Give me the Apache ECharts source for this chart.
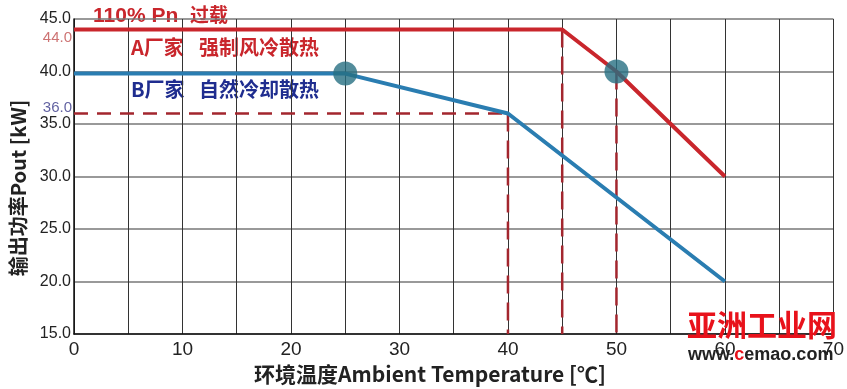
<!DOCTYPE html>
<html><head><meta charset="utf-8">
<script src="https://cdn.jsdelivr.net/npm/echarts@6/dist/echarts.min.js"></script>
<style>html,body{margin:0;padding:0;background:#fff}#c{width:847px;height:389px}</style>
</head><body><div id="c"></div>
<script>
// ---- data ----
const xTicks = [0, 10, 20, 30, 40, 50, 60, 70];
const yTicks = [15, 20, 25, 30, 35, 40, 45];
const redTemp = [0, 45, 50, 60];
const redPower = [44, 44, 40, 30];
const blueTemp = [0, 25, 40, 60];
const bluePower = [39.8, 39.8, 36, 20];
const dotTemp = [25, 50];
const dotPower = [39.8, 40];
const dashH = [[0, 36], [40, 36]];
const dashV = [[40, 36], [45, 44], [50, 40]];
const markTemp = [0, 0];
const markPower = [44, 36];
const markText = ['44.0', '36.0'];

const chart = echarts.init(document.getElementById('c'));
const dashColor = '#a3262e';
const dashSeries = [];
dashSeries.push({type:'line', data: dashH, symbol:'none', silent:true, z:2,
  lineStyle:{color:dashColor, width:2.5, type:[14,9]}});
dashV.forEach(p => dashSeries.push({type:'line', data:[p, [p[0], yTicks[0]]], symbol:'none', silent:true, z:2,
  lineStyle:{color:dashColor, width:2.5, type:[18,9]}}));

const cjk = '"Noto Sans CJK SC", sans-serif';
chart.setOption({
  animation:false,
  grid:{left:74, right:12, top:19, bottom:55},
  xAxis:{type:'value', min:xTicks[0], max:xTicks[xTicks.length-1], interval:5,
    axisLine:{show:true, onZero:false, lineStyle:{color:'#111', width:1.5}},
    axisTick:{show:false},
    axisLabel:{color:'#222', fontSize:19, fontFamily:'Liberation Sans Narrow, Liberation Sans, sans-serif', margin:6,
      formatter: v => xTicks.includes(v) ? String(v) : ''},
    splitLine:{show:true, lineStyle:{color:'#333', width:1}}
  },
  yAxis:{type:'value', min:yTicks[0], max:yTicks[yTicks.length-1], interval:5,
    axisLine:{show:true, lineStyle:{color:'#111', width:1.5}},
    axisTick:{show:false},
    axisLabel:{color:'#222', fontSize:16, fontFamily:'Liberation Sans, sans-serif', margin:3,
      formatter: v => v.toFixed(1)},
    splitLine:{show:true, lineStyle:{color:'#777', width:1.5}}
  },
  series:[
    ...dashSeries,
    {type:'line', data: redTemp.map((t,i)=>[t, redPower[i]]), symbol:'none', z:3,
      lineStyle:{color:'#c9262c', width:4}},
    {type:'line', data: blueTemp.map((t,i)=>[t, bluePower[i]]), symbol:'none', z:3,
      lineStyle:{color:'#2a7db1', width:4}},
    {type:'scatter', data: dotTemp.map((t,i)=>[t, dotPower[i]]), symbolSize:24, z:5,
      itemStyle:{color:'#276f82'}},
    {type:'scatter', data: markTemp.map((t,i)=>({value:[t, markPower[i]], name: markText[i],
        label:{color: i===0 ? '#c05050' : '#3a3a8a', offset: i===0 ? [0, 8] : [0, -6]}})),
      symbolSize:0, z:6,
      label:{show:true, position:'left', distance:2, fontSize:15, fontFamily:'Liberation Sans, sans-serif',
        formatter: p => p.name}}
  ],
  graphic:[
    {type:'text', x:18, y:188, rotation:Math.PI/2, z:50,
      style:{text:'输出功率Pout [kW]', fill:'#222', font:'bold 20px ' + cjk, align:'center', verticalAlign:'middle'}},
    {type:'text', x:430, y:374, z:50,
      style:{text:'环境温度Ambient Temperature [℃]', fill:'#222', font:'bold 21px ' + cjk, align:'center', verticalAlign:'middle'}},
    {type:'text', left:93, top:6, style:{text:'110% Pn', fill:'#c9262c', font:'bold 21px "Liberation Sans", sans-serif'}},
    {type:'text', left:190, top:5, style:{text:'过载', fill:'#c9262c', font:'bold 19px ' + cjk}},
    {type:'text', left:131, top:37, style:{text:'A厂家', fill:'#c9262c', font:'bold 20px ' + cjk}},
    {type:'text', left:199, top:37, style:{text:'强制风冷散热', fill:'#c9262c', font:'bold 20px ' + cjk}},
    {type:'text', left:131, top:79, style:{text:'B厂家', fill:'#1f2d8f', font:'bold 20px ' + cjk}},
    {type:'text', left:199, top:79, style:{text:'自然冷却散热', fill:'#1f2d8f', font:'bold 20px ' + cjk}},
    {type:'text', left:687, top:310, z:100, style:{text:'亚洲工业网', fill:'#e8121b', font:'bold 30px ' + cjk}},
    {type:'text', left:688, top:346, z:100, style:{
      text:'{a|www.}{b|c}{a|emao.com}',
      rich:{a:{fill:'#222', font:'bold 18px "Liberation Sans", sans-serif'},
            b:{fill:'#e8121b', font:'bold 18px "Liberation Sans", sans-serif'}}}}
  ]
});
</script></body></html>
